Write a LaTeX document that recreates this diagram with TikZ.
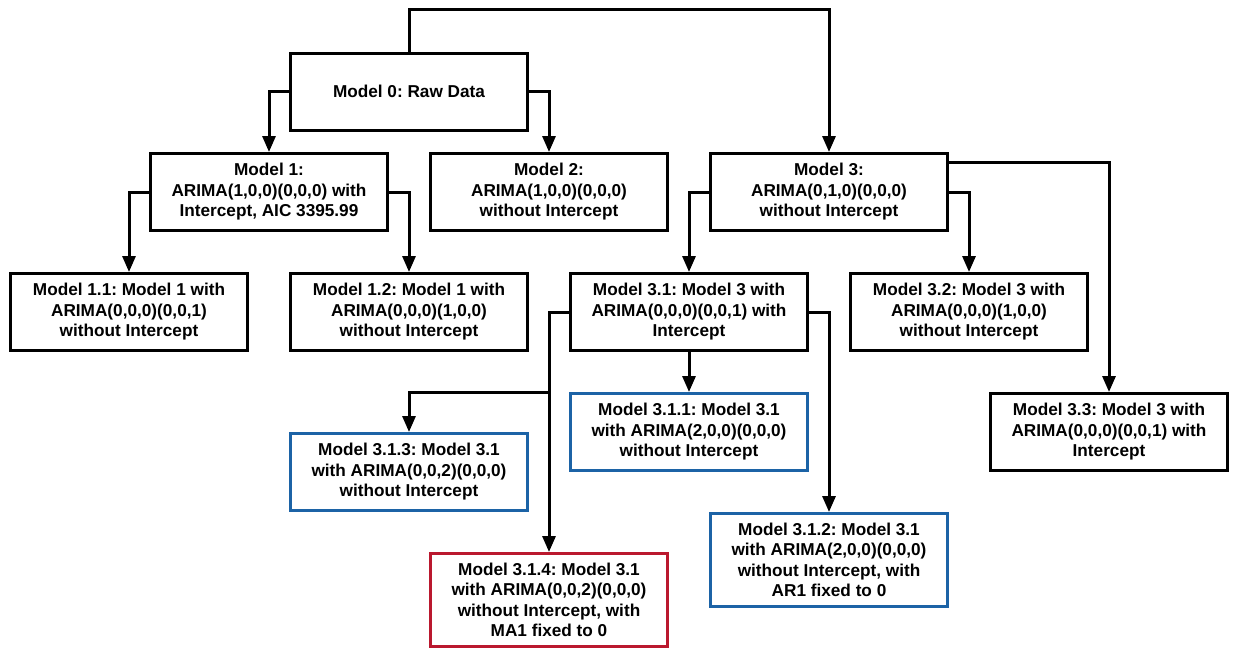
\documentclass[tikz,border=0pt]{standalone}
\usepackage{fontspec}
\setmainfont{Liberation Sans}
\usetikzlibrary{arrows.meta}
\definecolor{boxblue}{RGB}{28,99,166}
\definecolor{boxred}{RGB}{186,24,46}
\frenchspacing
\begin{document}
\begin{tikzpicture}[x=1pt,y=-1pt,
		ModelBox/.style={draw, line width=3pt, align=center, inner sep=0pt,
			minimum width=237pt, minimum height=77pt,
			font=\fontsize{17.2}{20.5}\selectfont\bfseries},
		TallBox/.style={ModelBox, minimum height=93pt},
		Link/.style={line width=3pt, -{Triangle[width=13pt,length=16pt]}}]
	\useasboundingbox (0,0) rectangle (1238,667);
	\node[ModelBox] (M0) at (409,91.5) {Model 0: Raw Data};
	\node[ModelBox] (M1) at (269,192) {Model 1:\\ARIMA(1,0,0)(0,0,0) with\\Intercept, AIC 3395.99};
	\node[ModelBox] (M2) at (549,192) {Model 2:\\ARIMA(1,0,0)(0,0,0)\\without Intercept};
	\node[ModelBox] (M3) at (829,192) {Model 3:\\ARIMA(0,1,0)(0,0,0)\\without Intercept};
	\node[ModelBox] (M11) at (129,312) {Model 1.1: Model 1 with\\ARIMA(0,0,0)(0,0,1)\\without Intercept};
	\node[ModelBox] (M12) at (409,312) {Model 1.2: Model 1 with\\ARIMA(0,0,0)(1,0,0)\\without Intercept};
	\node[ModelBox] (M31) at (689,312) {Model 3.1: Model 3 with\\ARIMA(0,0,0)(0,0,1) with\\Intercept};
	\node[ModelBox] (M32) at (969,312) {Model 3.2: Model 3 with\\ARIMA(0,0,0)(1,0,0)\\without Intercept};
	\node[ModelBox] (M33) at (1109,432) {Model 3.3: Model 3 with\\ARIMA(0,0,0)(0,0,1) with\\Intercept};
	\node[ModelBox, draw=boxblue] (M311) at (689,432) {Model 3.1.1: Model 3.1\\with ARIMA(2,0,0)(0,0,0)\\without Intercept};
	\node[ModelBox, draw=boxblue] (M313) at (409,472) {Model 3.1.3: Model 3.1\\with ARIMA(0,0,2)(0,0,0)\\without Intercept};
	\node[TallBox, draw=boxblue] (M312) at (829,560) {Model 3.1.2: Model 3.1\\with ARIMA(2,0,0)(0,0,0)\\without Intercept, with\\AR1 fixed to 0};
	\node[TallBox, draw=boxred] (M314) at (549,600) {Model 3.1.4: Model 3.1\\with ARIMA(0,0,2)(0,0,0)\\without Intercept, with\\MA1 fixed to 0};
	% first level
	\draw[Link] (M0.west) -| (M1.north);
	\draw[Link] (M0.east) -| (M2.north);
	\draw[Link] (M0.north) -- ++(0,-42) -| (M3.north);
	% second level
	\draw[Link] (M1.west) -| (M11.north);
	\draw[Link] (M1.east) -| (M12.north);
	\draw[Link] (M3.west) -| (M31.north);
	\draw[Link] (M3.east) -| (M32.north);
	\draw[Link] ([yshift=-10pt]M3.north east) -| (M33.north);
	% third level
	\draw[Link] (M31.south) -- (M311.north);
	\draw[Link] (M31.east) -| (M312.north);
	\draw[Link] (M31.west) -| (M314.north);
	\coordinate (Split) at (M314.north |- M311.north);
	\draw[Link] (Split) -| (M313.north);
\end{tikzpicture}
\end{document}
